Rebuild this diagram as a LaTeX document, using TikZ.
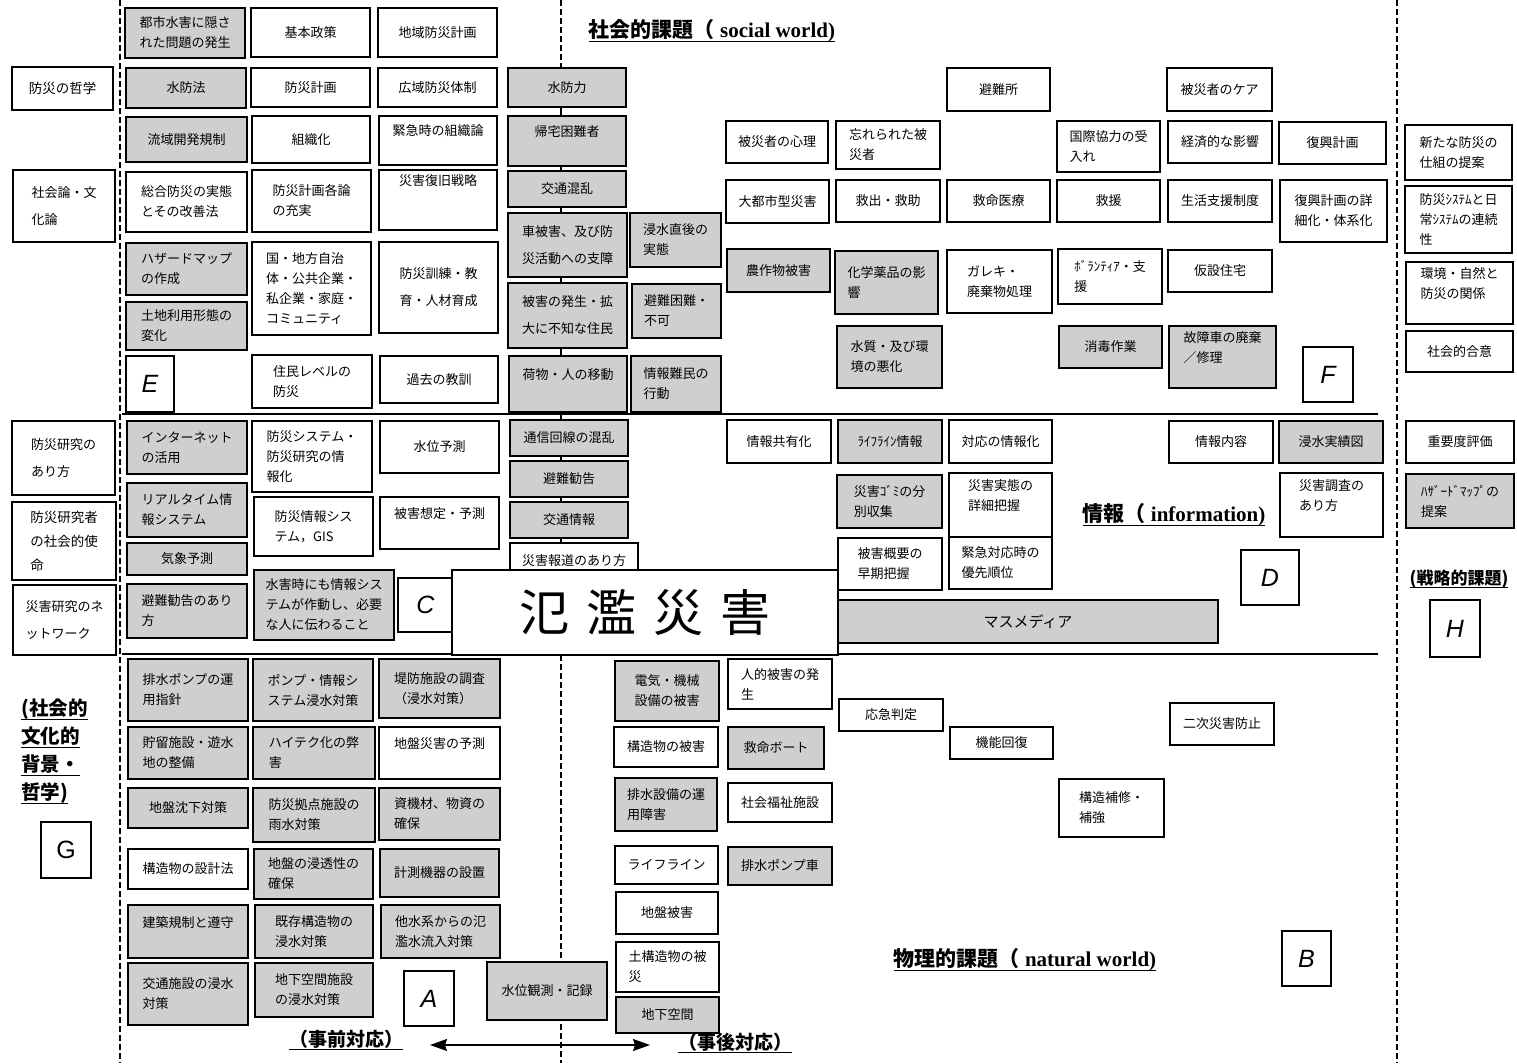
\documentclass[tikz,border=0pt]{standalone}
\usepackage{fontspec}
\setmainfont{Liberation Serif}
\setsansfont{Liberation Sans}
\newfontfamily\jp{Noto Sans CJK JP}
\usepackage{tikz}
\usetikzlibrary{arrows.meta}

% 下線付きの見出し
\newcommand\ulbox[1]{\leavevmode\setbox0=\hbox{#1}\rlap{\raisebox{-4pt}{\rule{\wd0}{1.3pt}}}\box0}
% 箱: [スタイル]{名前}{x1}{y1}{x2}{y2}{文字}
\newcommand\cell[7][wbox]{\node[#1, minimum width={(#5-#3)*1pt}, minimum height={(#6-#4)*1pt}] (#2) at ({(#3+#5)/2},{(#4+#6)/2}) {#7};}

\tikzset{
  wbox/.style={draw, line width=1.3pt, fill=white, align=left, inner sep=2pt,
               font=\jp\fontsize{13}{20}\selectfont},
  gbox/.style={wbox, fill=black!19},
  wide/.style={font=\jp\fontsize{13}{27}\selectfont},
  side/.style={font=\jp\fontsize{13.5}{24}\selectfont},
  letter/.style={draw, line width=2.2pt, fill=white, inner sep=0pt,
                 font=\sffamily\itshape\fontsize{25}{25}\selectfont},
  mainbox/.style={draw, line width=1.4pt, fill=white, inner sep=0pt,
                  font=\jp\fontsize{50}{50}\selectfont},
  ttl/.style={inner sep=0pt, font=\bfseries\fontsize{21}{21}\selectfont},
  divider/.style={dashed, line width=1.1pt, dash pattern=on 6pt off 3pt},
  rule/.style={line width=1.3pt},
  spine/.style={line width=1.1pt}
}

\begin{document}
\begin{tikzpicture}[x=1pt, y=-1pt, >={Stealth[length=17pt, width=12pt, inset=2pt]}]

    % =================================================================
    % 1. 枠と区切り線
    % =================================================================
    \fill[white] (0,0) rectangle (1517,1063);
    \useasboundingbox (0,0) rectangle (1517,1063);

    \coordinate (axis) at (561,0);      % 中央の軸
    \coordinate (axisend) at (561,1063);

    \draw[divider] (120,0) -- (120,1063);     % 左の点線
    \draw[divider] (1397,0) -- (1397,1063);   % 右の点線
    \draw[divider] (axis) -- (561,68);        % 中央の点線（上）
    \draw[divider] (561,655) -- (axisend);    % 中央の点線（下）

    \draw[rule] (122,414) -- (1378,414);      % 社会 / 情報
    \draw[rule] (122,654) -- (1378,654);      % 情報 / 物理

    % =================================================================
    % 2. 左端（社会的文化的背景・哲学）
    % =================================================================
    \cell[wbox, side]{tetsugaku}{12}{67}{113}{110}{防災の哲学}
    \cell[wbox, side, wide]{shakairon}{13}{170}{115}{242}{社会論・文\\化論}
    \cell[wbox, side, wide]{arikata}{12}{421}{115}{495}{防災研究の\\あり方}
    \cell[wbox, side]{shimei}{12}{502}{116}{580}{防災研究者\\の社会的使\\命}
    \cell[wbox, side, wide]{network}{13}{585}{116}{655}{災害研究のネ\\ットワーク}

    \node[ttl, anchor=north west, align=left, font=\jp\bfseries\fontsize{19.5}{28}\selectfont]
        (culture) at (21,699) {\ulbox{(社会的}\\\ulbox{文化的}\\\ulbox{背景・}\\\ulbox{哲学)}};
    \cell[letter, font=\sffamily\fontsize{25}{25}\selectfont]{letG}{41}{822}{91}{878}{G}

    % =================================================================
    % 3. 社会的課題（E, F）
    % =================================================================
    \cell[gbox]{kakusa}{125}{8}{245}{58}{都市水害に隠さ\\れた問題の発生}
    \cell[gbox]{suibouhou}{126}{68}{246}{108}{水防法}
    \cell[gbox]{ryuiki}{126}{117}{247}{162}{流域開発規制}
    \cell[wbox]{sougou}{126}{172}{247}{232}{総合防災の実態\\とその改善法}
    \cell[gbox]{hazard}{126}{243}{247}{295}{ハザードマップ\\の作成}
    \cell[gbox]{tochi}{126}{302}{247}{350}{土地利用形態の\\変化}
    \cell[letter]{letE}{126}{356}{174}{412}{E}

    \cell[wbox]{kihon}{251}{8}{370}{57}{基本政策}
    \cell[wbox]{keikaku}{251}{68}{370}{107}{防災計画}
    \cell[wbox]{soshiki}{252}{116}{370}{163}{組織化}
    \cell[wbox]{kakuron}{252}{170}{371}{232}{防災計画各論\\の充実}
    \cell[wbox]{kuni}{252}{242}{371}{335}{国・地方自治\\体・公共企業・\\私企業・家庭・\\コミュニティ}
    \cell[wbox]{jumin}{252}{355}{372}{408}{住民レベルの\\防災}

    \cell[wbox]{chiiki}{378}{8}{497}{57}{地域防災計画}
    \cell[wbox]{kouiki}{378}{68}{497}{107}{広域防災体制}
    \cell[wbox]{kinkyu}{379}{116}{497}{165}{緊急時の組織論\\~}
    \cell[wbox]{fukkyu}{379}{170}{497}{230}{災害復旧戦略\\~\\~}
    \cell[wbox, wide]{kunren}{379}{242}{498}{333}{防災訓練・教\\育・人材育成}
    \cell[wbox]{kako}{380}{356}{498}{403}{過去の教訓}

    % 中央の列
    \cell[gbox]{suibouryoku}{508}{68}{626}{107}{水防力}
    \cell[gbox]{kitaku}{508}{116}{626}{166}{帰宅困難者\\~}
    \cell[gbox]{konran}{508}{171}{626}{207}{交通混乱}
    \cell[gbox, wide]{kuruma}{508}{213}{627}{277}{車被害、及び防\\災活動への支障}
    \cell[gbox, wide]{fuchi}{508}{283}{627}{348}{被害の発生・拡\\大に不知な住民}
    \cell[gbox]{nimotsu}{509}{356}{627}{412}{荷物・人の移動\\~}

    \cell[gbox]{chokugo}{630}{213}{721}{267}{浸水直後の\\実態}
    \cell[gbox]{hinan}{632}{284}{721}{338}{避難困難・\\不可}
    \cell[gbox]{nanmin}{631}{356}{721}{412}{情報難民の\\行動}

    \cell[wbox]{shinri}{726}{121}{828}{163}{被災者の心理}
    \cell[wbox]{wasure}{836}{121}{940}{169}{忘れられた被\\災者}
    \cell[wbox]{daitoshi}{726}{180}{829}{223}{大都市型災害}
    \cell[wbox]{kyushutsu}{836}{180}{940}{222}{救出・救助}
    \cell[gbox]{nousaku}{727}{249}{830}{292}{農作物被害}
    \cell[gbox]{kagaku}{835}{251}{938}{314}{化学薬品の影\\響}
    \cell[gbox]{suishitsu}{837}{326}{942}{388}{水質・及び環\\境の悪化}
    \cell[wbox]{hinanjo}{947}{68}{1050}{111}{避難所}
    \cell[wbox]{kyumei}{947}{180}{1050}{222}{救命医療}
    \cell[wbox]{gareki}{947}{250}{1052}{313}{ガレキ・\\廃棄物処理}
    \cell[wbox]{care}{1167}{68}{1272}{111}{被災者のケア}
    \cell[wbox]{kokusai}{1057}{121}{1160}{172}{国際協力の受\\入れ}
    \cell[wbox]{keizai}{1168}{121}{1272}{163}{経済的な影響}
    \cell[wbox]{fukkou}{1279}{122}{1386}{164}{復興計画}
    \cell[wbox]{kyuen}{1057}{180}{1160}{222}{救援}
    \cell[wbox]{seikatsu}{1168}{180}{1272}{222}{生活支援制度}
    \cell[wbox]{shousai}{1280}{180}{1387}{242}{復興計画の詳\\細化・体系化}
    \cell[wbox]{volunteer}{1058}{249}{1162}{304}{ﾎﾞﾗﾝﾃｨｱ・支\\援}
    \cell[wbox]{kasetsu}{1168}{250}{1272}{292}{仮設住宅}
    \cell[gbox]{shoudoku}{1059}{326}{1162}{368}{消毒作業}
    \cell[gbox]{koshou}{1169}{326}{1276}{388}{故障車の廃棄\\／修理\\~}
    \cell[letter]{letF}{1303}{347}{1353}{402}{F}

    \node[ttl] (socialttl) at (712,31) {\ulbox{{\jp 社会的課題（}\ social world)}};

    % =================================================================
    % 4. 戦略的課題（H）
    % =================================================================
    \cell[wbox]{shikumi}{1405}{125}{1512}{180}{新たな防災の\\仕組の提案}
    \cell[wbox]{renzoku}{1405}{186}{1512}{253}{防災ｼｽﾃﾑと日\\常ｼｽﾃﾑの連続\\性}
    \cell[wbox]{kankyou}{1406}{262}{1513}{324}{環境・自然と\\防災の関係\\~}
    \cell[wbox]{goui}{1406}{331}{1513}{372}{社会的合意}
    \cell[wbox]{juuyou}{1406}{421}{1514}{463}{重要度評価}
    \cell[gbox]{teian}{1406}{474}{1514}{528}{ﾊｻﾞｰﾄﾞﾏｯﾌﾟの\\提案}
    \node[ttl, font=\jp\bfseries\fontsize{17}{17}\selectfont] (stratttl) at (1459,579) {\ulbox{(戦略的課題)}};
    \cell[letter]{letH}{1430}{600}{1480}{657}{H}

    % =================================================================
    % 5. 情報（C, D）
    % =================================================================
    \cell[gbox]{internet}{127}{421}{247}{474}{インターネット\\の活用}
    \cell[gbox]{realtime}{127}{483}{247}{537}{リアルタイム情\\報システム}
    \cell[gbox]{kishou}{127}{543}{247}{575}{気象予測}
    \cell[gbox]{kankokuari}{127}{584}{247}{638}{避難勧告のあり\\方}
    \cell[wbox]{jouhouka}{252}{421}{372}{492}{防災システム・\\防災研究の情\\報化}
    \cell[wbox]{gis}{254}{497}{373}{556}{防災情報シス\\テム，GIS}
    \cell[gbox]{sadou}{254}{570}{394}{640}{水害時にも情報シス\\テムが作動し、必要\\な人に伝わること}
    \cell[wbox]{yosoku}{380}{421}{499}{473}{水位予測}
    \cell[wbox]{soutei}{380}{497}{499}{549}{被害想定・予測\\~}
    \cell[letter]{letC}{398}{578}{453}{632}{C}

    \cell[gbox]{tsuushin}{510}{420}{628}{456}{通信回線の混乱}
    \cell[gbox]{kankoku}{510}{461}{628}{497}{避難勧告}
    \cell[gbox]{koutsuujouhou}{510}{502}{628}{538}{交通情報}
    \cell[wbox]{houdou}{510}{543}{638}{578}{災害報道のあり方}

    \cell[wbox]{kyouyuu}{727}{420}{831}{463}{情報共有化}
    \cell[gbox]{lifejouhou}{838}{420}{942}{463}{ﾗｲﾌﾗｲﾝ情報}
    \cell[wbox]{taiou}{949}{420}{1052}{463}{対応の情報化}
    \cell[gbox]{gomi}{837}{475}{942}{528}{災害ｺﾞﾐの分\\別収集}
    \cell[wbox]{jittai}{949}{473}{1052}{537}{災害実態の\\詳細把握\\~}
    \cell[wbox]{gaiyou}{838}{538}{942}{590}{被害概要の\\早期把握}
    \cell[wbox]{yuusen}{949}{537}{1052}{589}{緊急対応時の\\優先順位}
    \cell[gbox, font=\jp\fontsize{15}{15}\selectfont]{media}{838}{600}{1218}{643}{マスメディア}
    \cell[wbox]{naiyou}{1169}{421}{1273}{463}{情報内容}
    \cell[gbox]{jisseki}{1279}{421}{1383}{463}{浸水実績図}
    \cell[wbox]{chousa}{1280}{473}{1383}{537}{災害調査の\\あり方\\~}
    \cell[letter]{letD}{1241}{550}{1299}{605}{D}

    \node[ttl] (infottl) at (1174,515) {\ulbox{{\jp 情報（}\ information)}};

    % 中央の列をつなぐ線
    \foreach \a/\b in {suibouryoku/kitaku, kitaku/konran, konran/kuruma, kuruma/fuchi,
                       fuchi/nimotsu, nimotsu/tsuushin, tsuushin/kankoku,
                       kankoku/koutsuujouhou, koutsuujouhou/houdou}
        \draw[spine] (\a.south -| axis) -- (\b.north -| axis);

    % 中心の箱
    \cell[mainbox]{flood}{452}{570}{838}{655}{氾\hspace{17pt}濫\hspace{17pt}災\hspace{17pt}害}

    % =================================================================
    % 6. 物理的課題（A, B）
    % =================================================================
    \cell[gbox]{pump}{128}{659}{248}{721}{排水ポンプの運\\用指針}
    \cell[gbox]{pumpjouhou}{253}{659}{373}{721}{ポンプ・情報シ\\ステム浸水対策}
    \cell[gbox]{teibou}{379}{659}{500}{718}{堤防施設の調査\\（浸水対策）}
    \cell[gbox]{chorvu}{128}{727}{248}{779}{貯留施設・遊水\\地の整備}
    \cell[gbox]{haitek}{253}{727}{375}{779}{ハイテク化の弊\\害}
    \cell[wbox]{jibanyosoku}{379}{727}{500}{779}{地盤災害の予測\\~}
    \cell[gbox]{chinka}{128}{788}{248}{828}{地盤沈下対策}
    \cell[gbox]{kyoten}{253}{788}{375}{842}{防災拠点施設の\\雨水対策}
    \cell[gbox]{shikizai}{379}{788}{500}{840}{資機材、物資の\\確保}
    \cell[wbox]{sekkei}{128}{849}{248}{889}{構造物の設計法}
    \cell[gbox]{shintou}{254}{849}{373}{899}{地盤の浸透性の\\確保}
    \cell[gbox]{keisoku}{380}{849}{499}{897}{計測機器の設置}
    \cell[gbox]{kenchiku}{128}{905}{248}{958}{建築規制と遵守\\~}
    \cell[gbox]{kison}{255}{905}{373}{958}{既存構造物の\\浸水対策}
    \cell[gbox]{tasuikei}{381}{905}{500}{958}{他水系からの氾\\濫水流入対策}
    \cell[gbox]{koutsuushisetsu}{128}{963}{248}{1025}{交通施設の浸水\\対策}
    \cell[gbox]{chika}{255}{963}{373}{1017}{地下空間施設\\の浸水対策}
    \cell[letter]{letA}{404}{971}{454}{1026}{A}
    \cell[gbox]{kansoku}{487}{962}{607}{1020}{水位観測・記録}

    \cell[gbox]{denki}{615}{661}{719}{721}{電気・機械\\設備の被害}
    \cell[wbox]{jinteki}{728}{659}{832}{709}{人的被害の発\\生}
    \cell[wbox]{kouzou}{614}{727}{718}{767}{構造物の被害}
    \cell[gbox]{boat}{728}{727}{824}{769}{救命ボート}
    \cell[gbox]{haisui}{615}{778}{717}{831}{排水設備の運\\用障害}
    \cell[wbox]{fukushi}{728}{783}{832}{822}{社会福祉施設}
    \cell[wbox]{lifeline}{615}{846}{718}{884}{ライフライン}
    \cell[gbox]{pumpsha}{728}{847}{832}{885}{排水ポンプ車}
    \cell[wbox]{jiban}{616}{892}{718}{934}{地盤被害}
    \cell[wbox]{dokouzou}{616}{942}{719}{992}{土構造物の被\\災}
    \cell[gbox]{chikakuukan}{616}{997}{719}{1033}{地下空間}
    \cell[wbox]{hantei}{839}{699}{943}{731}{応急判定}
    \cell[wbox]{kinou}{950}{727}{1053}{759}{機能回復}
    \cell[wbox]{niji}{1170}{703}{1274}{745}{二次災害防止}
    \cell[wbox]{hoshuu}{1059}{779}{1164}{837}{構造補修・\\補強}
    \cell[letter]{letB}{1282}{931}{1331}{986}{B}

    \node[ttl] (natttl) at (1025,960) {\ulbox{{\jp 物理的課題（}\ natural world)}};

    % =================================================================
    % 7. 事前対応 ←→ 事後対応
    % =================================================================
    \node[ttl, font=\jp\bfseries\fontsize{19}{19}\selectfont] (jizen) at (346,1040) {\ulbox{（事前対応）}};
    \node[ttl, font=\jp\bfseries\fontsize{19}{19}\selectfont] (jigo) at (735,1043) {\ulbox{（事後対応）}};
    \coordinate (prearr) at (430,1045);
    \coordinate (postarr) at (650,1045);
    \draw[<->, line width=1.6pt] (prearr) -- (postarr);

\end{tikzpicture}
\end{document}
